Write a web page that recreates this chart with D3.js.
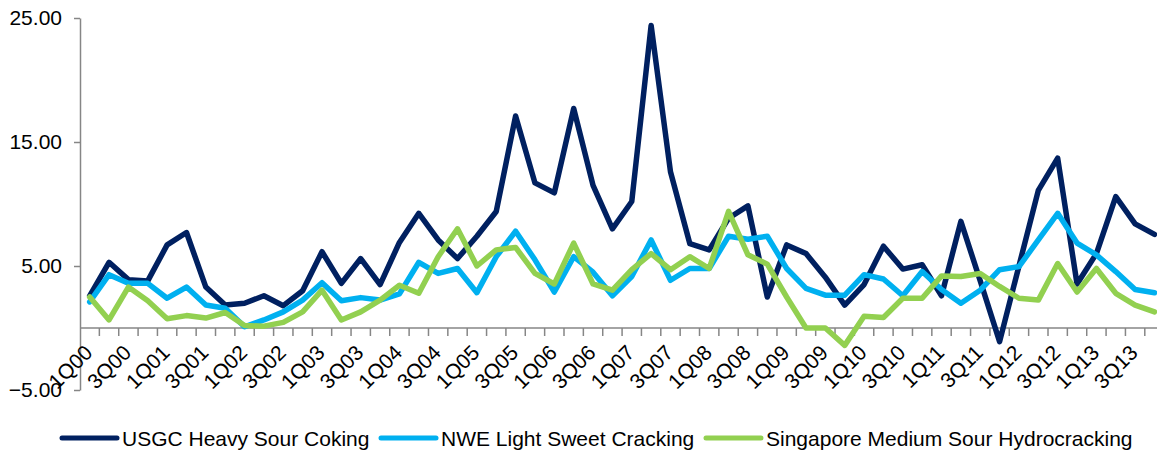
<!DOCTYPE html>
<meta charset="utf-8">
<style>
body { margin: 0; background: #fff; }
text { font-family: "Liberation Sans", Arial, sans-serif; fill: #000; }
.axis path, .axis line { stroke: #868686; stroke-width: 1.5px; }
.series { fill: none; stroke-width: 5.5px; stroke-linejoin: round; stroke-linecap: round; }
</style>
<body>
<div id="chart"></div>
<script src="https://d3js.org/d3.v7.min.js"></script>
<script>

// quarters 1Q00 .. 4Q13
var quarters = [];
for (var yr = 0; yr <= 13; yr++) {
    for (var q = 1; q <= 4; q++) {
        quarters.push(q + "Q" + (yr < 10 ? "0" + yr : "" + yr));
    }
}

var usgc = [2.6, 5.3, 3.9, 3.8, 6.7, 7.7, 3.3, 1.85, 2.0, 2.6, 1.8, 3.0, 6.15, 3.6,
    5.6, 3.5, 6.9, 9.25, 7.1, 5.6, 7.4, 9.4, 17.1, 11.7, 10.9, 17.7, 11.5, 8.0,
    10.2, 24.4, 12.6, 6.8, 6.3, 8.85, 9.85, 2.5, 6.7, 6.0, 4.1, 1.85, 3.5, 6.6,
    4.75, 5.1, 2.6, 8.6, 3.8, -1.1, 5.0, 11.1, 13.7, 3.55, 6.0, 10.6, 8.4, 7.55];

var nwe = [2.1, 4.3, 3.6, 3.6, 2.4, 3.3, 1.85, 1.6, 0.1, 0.65, 1.3, 2.25, 3.65, 2.2,
    2.45, 2.25, 2.75, 5.3, 4.4, 4.8, 2.85, 5.75, 7.8, 5.5, 2.9, 5.75, 4.5, 2.6,
    4.15, 7.1, 3.85, 4.8, 4.8, 7.4, 7.15, 7.4, 4.8, 3.2, 2.65, 2.65, 4.3, 3.95,
    2.6, 4.55, 3.1, 2.0, 3.05, 4.7, 4.95, 7.1, 9.25, 6.85, 5.9, 4.55, 3.1, 2.85];

var singapore = [2.5, 0.65, 3.3, 2.2, 0.75, 1.0, 0.8, 1.25, 0.2, 0.15, 0.45, 1.3, 3.05, 0.65,
    1.3, 2.25, 3.45, 2.8, 5.75, 8.0, 5.0, 6.3, 6.5, 4.4, 3.55, 6.85, 3.55, 3.05,
    4.7, 6.0, 4.7, 5.75, 4.8, 9.4, 5.9, 5.15, 2.5, 0.0, 0.0, -1.4, 0.95, 0.85,
    2.4, 2.4, 4.2, 4.15, 4.4, 3.35, 2.4, 2.25, 5.2, 2.9, 4.8, 2.8, 1.85, 1.3];

var seriesNames = ["USGC Heavy Sour Coking", "NWE Light Sweet Cracking", "Singapore Medium Sour Hydrocracking"];
var seriesColors = ["#002060", "#00b0f0", "#92d050"];
var yTicks = [-5, 5, 15, 25];

var width = 1157,
    height = 450;

var svg = d3.select("#chart").append("svg")
    .attr("width", width)
    .attr("height", height);

var x = d3.scaleBand()
    .domain(quarters)
    .range([80, 80 + 56 * 19.36]);

var y = d3.scaleLinear()
    .domain([-5, 25])
    .range([390, 18]);

function cx(d) { return x(d) + x.bandwidth() / 2; }

// y axis
svg.append("g")
    .attr("class", "axis")
    .attr("transform", "translate(80,0)")
    .call(d3.axisLeft(y).tickValues(yTicks).tickFormat(d3.format(".2f")).tickSize(6).tickPadding(12).tickSizeOuter(0))
    .selectAll("text")
    .style("font-size", "21px")
    .attr("font-family", null);

// x axis along zero
var xa = svg.append("g").attr("class", "axis");
xa.append("line")
    .attr("x1", 80).attr("x2", width)
    .attr("y1", y(0)).attr("y2", y(0));
xa.selectAll("line.tick")
    .data(quarters.slice(1))
    .enter().append("line")
    .attr("class", "tick")
    .attr("x1", function(d) { return x(d); })
    .attr("x2", function(d) { return x(d); })
    .attr("y1", y(0))
    .attr("y2", y(0) + 8);
xa.selectAll("text")
    .data(quarters.filter(function(d, i) { return i % 2 == 0; }))
    .enter().append("text")
    .attr("text-anchor", "end")
    .style("font-size", "21px")
    .attr("transform", function(d) { return "translate(" + (cx(d) + 4) + "," + (y(0) + 26) + ") rotate(-45)"; })
    .text(function(d) { return d; });

// lines
var line = d3.line()
    .x(function(d, i) { return cx(quarters[i]); })
    .y(function(d) { return y(d); });

[usgc, nwe, singapore].forEach(function(s, k) {
    svg.append("path")
        .attr("class", "series")
        .attr("stroke", seriesColors[k])
        .attr("d", line(s));
});

// legend
var legendX = [62, 381, 706];
var lg = svg.selectAll("g.legend")
    .data(seriesNames)
    .enter().append("g")
    .attr("class", "legend")
    .attr("transform", function(d, i) { return "translate(" + legendX[i] + ",438)"; });
lg.append("line")
    .attr("x1", 0).attr("x2", 55)
    .attr("stroke", function(d, i) { return seriesColors[i]; })
    .attr("stroke-width", 5)
    .attr("stroke-linecap", "round");
lg.append("text")
    .attr("x", 60)
    .attr("y", 7.5)
    .style("font-size", "21px")
    .text(function(d) { return d; });

</script>
</body>
